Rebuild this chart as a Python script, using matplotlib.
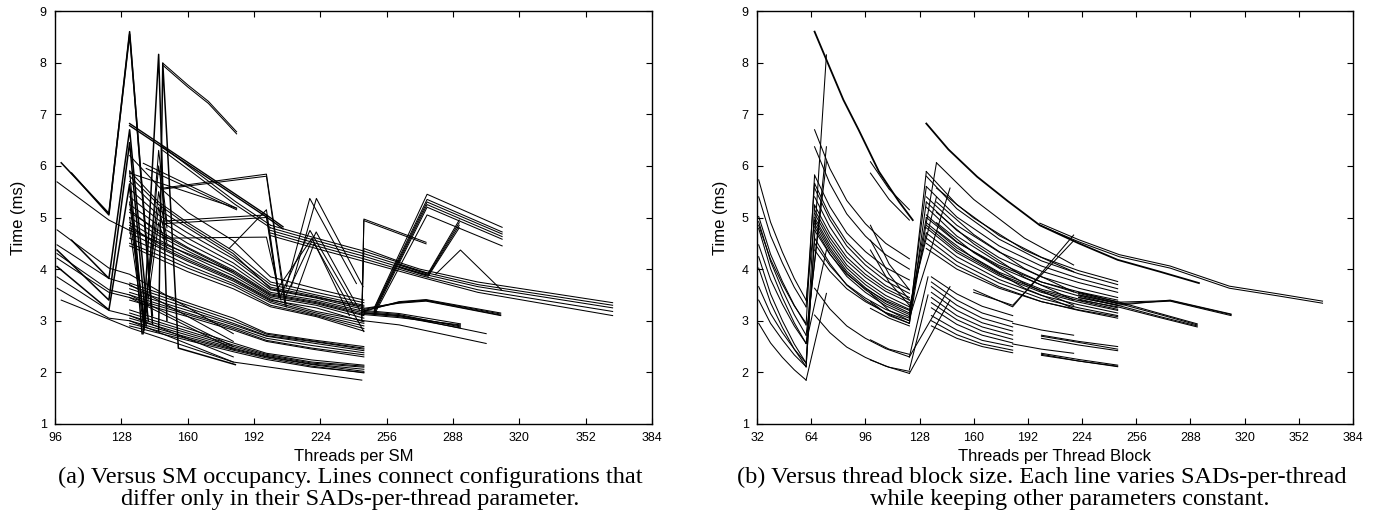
import matplotlib
matplotlib.use("Agg")
import matplotlib.pyplot as plt

plt.rcParams['font.family'] = ['Liberation Sans', 'DejaVu Sans']

# ---------------- (a) threads per SM ----------------
# peaks on the left
a_peak_x = [[104, 122, 132, 143], [99, 122, 132, 143], [104, 122, 132, 141],
            [97, 122, 132, 140], [97, 122, 132, 138], [138.5, 146, 150],
            [146, 148, 155.5, 183]]
a_peak_y = [[5.86, 5.05, 8.6, 2.95], [6.06, 5.08, 8.55, 3.1], [4.56, 3.82, 6.7, 3.0],
            [4.37, 3.40, 6.45, 2.9], [4.05, 3.21, 5.65, 2.75], [2.75, 8.16, 3.0],
            [2.8, 7.99, 2.47, 2.15]]
a_8_x = [148, 160, 170, 183.6]
a_8_y = [[7.99, 7.57, 7.25, 6.66], [7.95, 7.53, 7.21, 6.62]]

# left lines 96..122 and on
a_left_x = [97, 122, 132, 182]
a_left_y = [[5.69, 4.95, 4.75, 3.95], [4.76, 4.02, 3.9, 2.75], [4.47, 3.82, 3.7, 2.6],
            [4.21, 3.55, 3.45, 2.45], [3.85, 3.2, 3.1, 2.3], [3.63, 3.05, 3.0, 2.2],
            [4.3, 3.6, 3.5, 2.5]]
a_lowest_x = [99, 133, 182, 244]
a_lowest_y = [3.4, 2.85, 2.2, 1.85]

# low bands
a_low_x = [132, 160, 182, 198, 220, 245]
a_low_y = [[3.73, 3.35, 3.05, 2.76, 2.63, 2.50], [3.68, 3.30, 3.00, 2.74, 2.61, 2.47],
           [3.62, 3.25, 2.95, 2.71, 2.60, 2.45], [3.55, 3.20, 2.92, 2.70, 2.57, 2.42],
           [3.50, 3.15, 2.88, 2.66, 2.52, 2.38], [3.45, 3.12, 2.85, 2.62, 2.47, 2.34],
           [3.40, 3.08, 2.82, 2.60, 2.45, 2.30], [3.21, 2.85, 2.57, 2.37, 2.24, 2.14],
           [3.15, 2.80, 2.53, 2.35, 2.20, 2.12], [3.10, 2.76, 2.50, 2.33, 2.18, 2.10],
           [3.05, 2.72, 2.47, 2.31, 2.16, 2.06], [3.00, 2.68, 2.45, 2.30, 2.15, 2.02],
           [2.95, 2.65, 2.43, 2.28, 2.12, 1.99], [2.90, 2.62, 2.40, 2.25, 2.10, 2.00]]

# dense middle band
a_mid_x = [132, 146, 160, 182, 200, 222, 245]
a_mid_y = [[6.20, 5.60, 5.10, 4.55, 3.85, 3.62, 3.40], [5.90, 5.30, 4.90, 4.35, 3.75, 3.55, 3.35],
           [5.70, 5.15, 4.80, 4.25, 3.70, 3.50, 3.30], [5.55, 5.05, 4.70, 4.20, 3.65, 3.47, 3.25],
           [5.40, 4.95, 4.60, 4.12, 3.60, 3.44, 3.22], [5.25, 4.85, 4.50, 4.05, 3.55, 3.40, 3.18],
           [5.10, 4.75, 4.42, 3.98, 3.52, 3.37, 3.15], [5.00, 4.65, 4.35, 3.92, 3.48, 3.33, 3.10],
           [4.90, 4.57, 4.28, 3.87, 3.45, 3.30, 3.05], [4.80, 4.50, 4.22, 3.82, 3.42, 3.18, 3.00],
           [4.70, 4.42, 4.15, 3.77, 3.38, 3.15, 2.95], [4.60, 4.35, 4.08, 3.72, 3.35, 3.12, 2.90],
           [4.50, 4.27, 4.02, 3.68, 3.30, 3.10, 2.85], [4.45, 4.20, 3.95, 3.62, 3.27, 3.08, 2.80],
           [5.80, 5.25, 4.85, 4.30, 3.62, 3.45, 3.28], [5.15, 4.70, 4.40, 3.95, 3.50, 3.35, 3.12],
           [4.85, 4.45, 4.18, 3.80, 3.40, 3.25, 2.98]]

# zigzags between 132 and 150
a_zig_x = [132, 139, 146, 150]
a_zig_y = [[5.9, 2.8, 6.3, 4.9], [5.6, 2.9, 6.0, 4.8], [5.3, 3.0, 5.5, 4.6],
           [5.0, 3.1, 5.2, 4.5], [4.8, 2.85, 4.9, 4.4]]

# single segments
a_seg_x = [[132, 183.6], [138.6, 183.6], [140, 183.6], [148, 183, 200], [148, 183, 200],
           [148, 198, 207.6], [148, 198, 207], [148, 198, 204], [148, 198, 204],
           [148, 198, 205], [180, 198, 204]]
a_seg_y = [[5.86, 5.18], [6.05, 5.18], [5.95, 5.15], [6.37, 5.31, 4.85], [6.30, 5.25, 4.80],
           [5.57, 5.84, 3.27], [5.55, 5.80, 3.3], [4.93, 5.05, 3.5], [4.88, 5.0, 3.45],
           [4.6, 4.62, 3.4], [4.4, 5.15, 3.5]]

# thick upper line and band to 365
a_thick_x = [132, 198, 206]
a_thick_y = [[6.82, 5.05, 4.82], [6.78, 5.01, 4.78]]
a_top_x = [200, 222, 245, 272, 300, 365]
a_top_y = [[4.85, 4.60, 4.35, 4.00, 3.75, 3.35], [4.80, 4.55, 4.30, 3.96, 3.70, 3.30],
           [4.75, 4.50, 4.25, 3.92, 3.66, 3.25], [4.70, 4.45, 4.20, 3.88, 3.60, 3.18],
           [4.65, 4.40, 4.15, 3.85, 3.55, 3.10]]

# spikes around 205..245
a_spike_x = [[207.6, 218.9, 241.4], [210, 222.1, 244.6], [205, 219, 240], [207, 222, 243],
             [203, 220, 238], [212, 221, 245]]
a_spike_y = [[3.66, 5.37, 3.72], [3.66, 5.37, 3.66], [3.5, 4.75, 3.3], [3.45, 4.72, 3.2],
             [3.6, 4.6, 3.1], [3.5, 4.5, 2.79]]

# right part
a_jump_x = [[244, 245, 275], [244, 245, 275], [244, 245, 262]]
a_jump_y = [[3.0, 4.97, 4.52], [3.02, 4.94, 4.49], [3.1, 4.4, 4.15]]
a_rise_x = [250, 275.5, 311.7]
a_rise_y = [[3.25, 5.45, 4.81], [3.23, 5.35, 4.72], [3.2, 5.3, 4.68],
            [3.18, 5.25, 4.63], [3.15, 5.2, 4.58], [3.12, 5.05, 4.45]]
a_rise2_x = [262, 276, 291]
a_rise2_y = [[4.1, 3.92, 4.95], [4.08, 3.9, 4.9], [4.05, 3.88, 4.85], [4.03, 3.86, 4.8]]
a_tri_x = [279.6, 291.6, 311.3]
a_tri_y = [3.9, 4.37, 3.6]
a_flat_x = [245, 262, 275, 311]
a_flat_y = [[3.22, 3.36, 3.40, 3.13], [3.20, 3.35, 3.39, 3.11],
            [3.18, 3.37, 3.41, 3.15], [3.24, 3.34, 3.38, 3.10]]
a_band_x = [245, 262, 291.6]
a_band_y = [[3.18, 3.12, 2.88], [3.16, 3.10, 2.90], [3.14, 3.08, 2.86],
            [3.12, 3.06, 2.92], [3.20, 3.14, 2.94]]
a_thin_x = [245, 262, 304]
a_thin_y = [[3.0, 2.92, 2.56], [3.15, 3.1, 2.75]]

# ---------------- (b) threads per thread block ----------------
b_first_x = [33, 40, 47, 54, 61]
b_first_y = [[5.73, 4.91, 4.33, 3.82, 3.40], [5.40, 4.65, 4.12, 3.65, 3.27],
             [5.02, 4.29, 3.76, 3.30, 2.92], [4.92, 4.15, 3.60, 3.12, 2.72],
             [4.79, 4.01, 3.45, 2.96, 2.56], [4.47, 3.80, 3.32, 2.90, 2.56],
             [4.24, 3.52, 3.00, 2.55, 2.18], [4.02, 3.35, 2.87, 2.45, 2.11],
             [3.66, 3.14, 2.77, 2.45, 2.18], [3.40, 2.95, 2.63, 2.34, 2.11],
             [2.95, 2.57, 2.29, 2.05, 1.85], [4.85, 4.19, 3.71, 3.29, 2.95]]
b_jump1_x = [[61, 73], [61, 73], [61, 73], [61, 73], [61, 73], [61, 66], [61, 66],
             [61, 66], [61, 66], [61, 66]]
b_jump1_y = [[1.85, 3.53], [2.11, 8.15], [2.56, 6.37], [2.72, 6.08], [2.56, 4.37],
             [2.92, 5.82], [3.27, 5.66], [2.18, 5.24], [3.40, 4.95], [2.11, 4.6]]

b_top_x = [66, 75, 83, 92, 104, 116, 124]
b_top_y = [8.6, 7.9, 7.28, 6.7, 5.89, 5.3, 4.95]

b_second_x = [66, 75, 85, 96, 108, 122]
b_second_y = [[6.70, 5.95, 5.33, 4.88, 4.50, 4.20], [6.37, 5.66, 5.07, 4.64, 4.28, 4.00],
              [5.82, 5.21, 4.70, 4.34, 4.03, 3.79], [5.66, 5.04, 4.53, 4.16, 3.85, 3.60],
              [5.57, 4.96, 4.45, 4.08, 3.77, 3.53], [5.24, 4.69, 4.23, 3.90, 3.62, 3.40],
              [5.08, 4.54, 4.08, 3.76, 3.49, 3.27], [4.95, 4.41, 3.96, 3.64, 3.37, 3.15],
              [4.82, 4.30, 3.86, 3.55, 3.29, 3.08], [4.60, 4.11, 3.69, 3.40, 3.15, 2.95],
              [4.37, 3.96, 3.62, 3.37, 3.16, 3.00], [5.40, 4.82, 4.33, 3.98, 3.68, 3.45],
              [4.75, 4.29, 3.90, 3.62, 3.39, 3.20], [5.15, 4.61, 4.16, 3.84, 3.57, 3.35],
              [4.50, 4.07, 3.70, 3.44, 3.22, 3.05], [3.63, 3.23, 2.90, 2.66, 2.46, 2.30],
              [3.11, 2.77, 2.49, 2.29, 2.12, 1.98], [5.00, 4.47, 4.02, 3.70, 3.43, 3.22],
              [4.88, 4.36, 3.92, 3.60, 3.33, 3.12]]

b_mid_x = [99, 110, 122]
b_mid_y = [[6.08, 5.55, 5.15], [5.86, 5.35, 4.95], [4.85, 4.1, 3.6], [4.56, 3.9, 3.4],
           [4.37, 3.75, 3.3], [3.53, 3.2, 3.0], [3.37, 3.1, 2.95], [3.24, 3.05, 2.9],
           [2.63, 2.45, 2.35], [2.24, 2.1, 2.02]]

b_jump2_x = [[122, 132], [122, 132], [122, 132], [122, 132], [122, 132], [122, 138],
             [122, 138], [122, 146], [122, 146], [122, 146], [122, 133], [122, 133]]
b_jump2_y = [[3.0, 5.89], [3.08, 5.6], [2.95, 5.3], [3.15, 5.0], [3.2, 4.7], [2.95, 6.06],
             [3.27, 5.4], [3.05, 5.57], [2.3, 3.66], [1.98, 3.4], [2.3, 3.85], [2.05, 3.5]]

b_third_x = [132, 150, 175, 200, 222, 245]
b_third_y = [[5.89, 5.25, 4.65, 4.23, 3.97, 3.76], [5.80, 5.17, 4.58, 4.16, 3.91, 3.70],
             [5.60, 5.01, 4.45, 4.06, 3.82, 3.62], [5.40, 4.85, 4.33, 3.96, 3.74, 3.55],
             [5.20, 4.64, 4.12, 3.75, 3.53, 3.34], [5.05, 4.53, 4.04, 3.69, 3.48, 3.30],
             [4.90, 4.41, 3.94, 3.61, 3.42, 3.25], [4.80, 4.32, 3.87, 3.55, 3.36, 3.20],
             [4.70, 4.24, 3.80, 3.49, 3.31, 3.15], [4.60, 4.15, 3.73, 3.43, 3.25, 3.10],
             [4.50, 4.07, 3.66, 3.37, 3.20, 3.05], [5.00, 4.52, 4.07, 3.75, 3.56, 3.40],
             [4.40, 4.00, 3.63, 3.37, 3.21, 3.08], [5.30, 4.75, 4.22, 3.85, 3.63, 3.45],
             [4.85, 4.36, 3.90, 3.58, 3.39, 3.22]]
b_short_x = [138, 160, 190, 219]
b_short_y = [[6.06, 5.35, 4.60, 4.08], [5.57, 4.99, 4.37, 3.95], [5.30, 4.67, 4.01, 3.56],
             [5.10, 4.49, 3.84, 3.40], [4.90, 4.32, 3.72, 3.30], [4.75, 4.21, 3.63, 3.24]]

b_low_x = [135, 150, 165, 183]
b_low_y = [[3.75, 3.40, 3.15, 2.98], [3.66, 3.30, 3.05, 2.88], [3.55, 3.20, 2.96, 2.80],
           [3.45, 3.10, 2.88, 2.72], [3.35, 3.02, 2.80, 2.64], [3.25, 2.93, 2.72, 2.57],
           [3.10, 2.82, 2.62, 2.50], [3.00, 2.73, 2.55, 2.43], [2.90, 2.66, 2.50, 2.38],
           [3.85, 3.52, 3.28, 3.10]]
b_vee_x = [160, 183, 219]
b_vee_y = [[3.6, 3.27, 4.66], [3.55, 3.3, 4.55]]
b_lowr_x = [200, 222, 245]
b_lowr_y = [[2.72, 2.60, 2.50], [2.70, 2.58, 2.45], [2.66, 2.53, 2.42],
            [2.37, 2.25, 2.14], [2.35, 2.22, 2.11], [2.33, 2.22, 2.12]]
b_lowm_x = [183, 200, 219]
b_lowm_y = [[2.95, 2.82, 2.72], [2.55, 2.45, 2.37]]

b_big_x = [132, 145, 162, 180, 199, 222, 245, 270, 293]
b_big_y = [6.82, 6.32, 5.79, 5.32, 4.85, 4.5, 4.18, 3.95, 3.73]
b_long_x = [199, 222, 246, 276, 311, 340, 366]
b_long_y = [[4.85, 4.53, 4.24, 4.02, 3.63, 3.48, 3.34], [4.89, 4.57, 4.28, 4.06, 3.67, 3.52, 3.38]]
b_band_x = [222, 245, 270, 292]
b_band_y = [[3.5, 3.34, 3.12, 2.92], [3.45, 3.30, 3.08, 2.90],
            [3.40, 3.27, 3.06, 2.88], [3.55, 3.37, 3.14, 2.94]]
b_flat_x = [222, 245, 276, 312]
b_flat_y = [[3.55, 3.36, 3.39, 3.12], [3.5, 3.33, 3.38, 3.10], [3.45, 3.30, 3.40, 3.13]]

xticks_a = list(range(96, 385, 32))
xticks_b = list(range(32, 385, 32))
yticks = list(range(1, 10))

fig = plt.figure(figsize=(13.79, 5.18), dpi=100)
ax1 = fig.add_axes([55 / 1379, 1 - 424 / 518, 597 / 1379, 413 / 518])
ax2 = fig.add_axes([757 / 1379, 1 - 424 / 518, 596 / 1379, 413 / 518])

LW = 0.75


def many(ax, xs, ys, lw=LW):
    for y in ys:
        ax.plot(xs, y, color='black', lw=lw)


def pairs(ax, xs, ys, lw=LW):
    for x, y in zip(xs, ys):
        ax.plot(x, y, color='black', lw=lw)


# panel a
pairs(ax1, a_peak_x, a_peak_y, 1.1)
many(ax1, a_8_x, a_8_y)
many(ax1, a_left_x, a_left_y)
ax1.plot(a_lowest_x, a_lowest_y, color='black', lw=LW)
many(ax1, a_low_x, a_low_y)
many(ax1, a_mid_x, a_mid_y)
many(ax1, a_zig_x, a_zig_y)
pairs(ax1, a_seg_x, a_seg_y)
many(ax1, a_thick_x, a_thick_y, 1.0)
many(ax1, a_top_x, a_top_y)
pairs(ax1, a_spike_x, a_spike_y)
pairs(ax1, a_jump_x, a_jump_y)
many(ax1, a_rise_x, a_rise_y)
many(ax1, a_rise2_x, a_rise2_y)
ax1.plot(a_tri_x, a_tri_y, color='black', lw=LW)
many(ax1, a_flat_x, a_flat_y)
many(ax1, a_band_x, a_band_y)
many(ax1, a_thin_x, a_thin_y)

# panel b
many(ax2, b_first_x, b_first_y)
pairs(ax2, b_jump1_x, b_jump1_y)
ax2.plot(b_top_x, b_top_y, color='black', lw=1.3)
many(ax2, b_second_x, b_second_y)
many(ax2, b_mid_x, b_mid_y)
pairs(ax2, b_jump2_x, b_jump2_y)
many(ax2, b_third_x, b_third_y)
many(ax2, b_short_x, b_short_y)
many(ax2, b_low_x, b_low_y)
many(ax2, b_vee_x, b_vee_y)
many(ax2, b_lowr_x, b_lowr_y)
many(ax2, b_lowm_x, b_lowm_y)
ax2.plot(b_big_x, b_big_y, color='black', lw=1.3)
many(ax2, b_long_x, b_long_y)
many(ax2, b_band_x, b_band_y)
many(ax2, b_flat_x, b_flat_y)

for ax, xt, lo, lab in [(ax1, xticks_a, 96, 'Threads per SM'),
                        (ax2, xticks_b, 32, 'Threads per Thread Block')]:
    ax.set_xlim(lo, 384)
    ax.set_ylim(1, 9)
    ax.set_xticks(xt)
    ax.set_yticks(yticks)
    ax.tick_params(direction='in', top=True, right=True, length=4, width=0.8,
                   labelsize=9, pad=6)
    for s in ax.spines.values():
        s.set_linewidth(1.0)
    ax.set_xlabel(lab, fontsize=12, labelpad=3)
    ax.set_ylabel('Time (ms)', fontsize=12, labelpad=10)

cap = dict(family=['Liberation Serif', 'DejaVu Serif'], fontsize=17.5, ha='center', va='center')
fig.text(350 / 1379, 1 - 477 / 518,
         '(a) Versus SM occupancy. Lines connect configurations that', **cap)
fig.text(350 / 1379, 1 - 500 / 518,
         'differ only in their SADs-per-thread parameter.', **cap)
fig.text(1042 / 1379, 1 - 477 / 518,
         '(b) Versus thread block size. Each line varies SADs-per-thread', **cap)
fig.text(1070 / 1379, 1 - 500 / 518,
         'while keeping other parameters constant.', **cap)

fig.savefig('out.png', dpi=100)
